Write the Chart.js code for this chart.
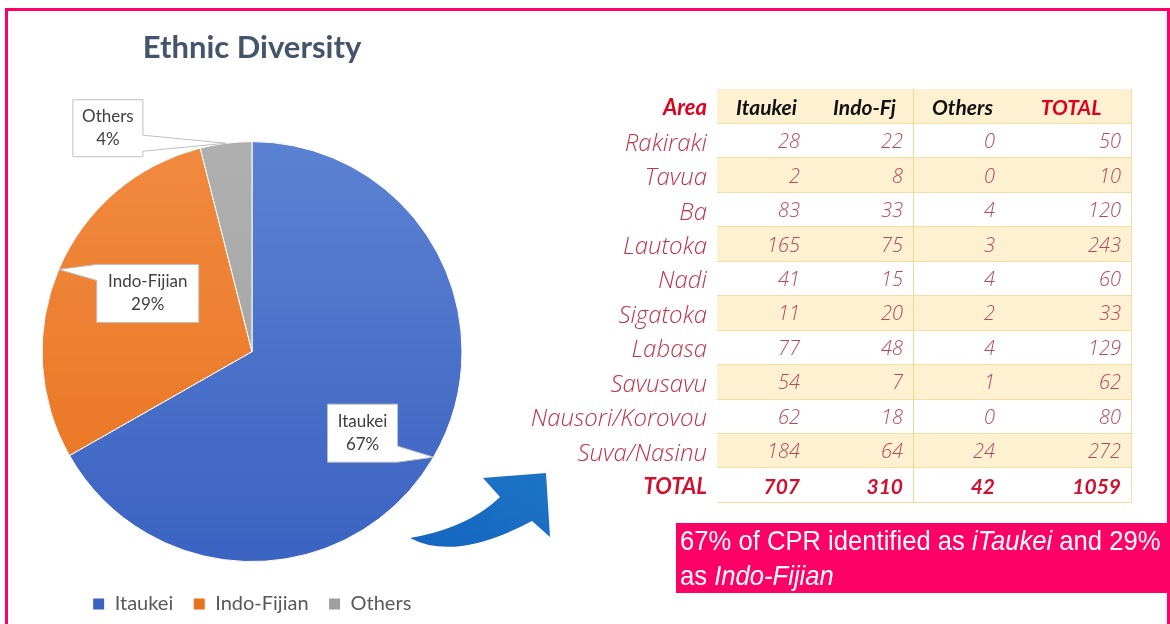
<!DOCTYPE html>
<html>
<head>
<meta charset="utf-8">
<script src="https://cdn.jsdelivr.net/npm/chart.js@4.4.1/dist/chart.umd.min.js"></script>
<style>
  body { margin: 0; width: 1170px; height: 624px; position: relative; overflow: hidden; background: #fff; }
  #frame { position: absolute; left: 5px; top: 8px; width: 1165px; height: 700px; border: 3px solid #ff0066; box-sizing: border-box; }
  #pieBox { position: absolute; left: 42px; top: 0; width: 420px; height: 624px; }
  #arrow { position: absolute; left: 0; top: 0; pointer-events: none; }
  #tbl {
    position: absolute; left: 520px; top: 89px;
    display: grid;
    grid-template-columns: 197px 93px 103px 92px 127px;
    grid-template-rows: 35px repeat(11, 34.45px);
    font-family: "Open Sans", sans-serif; font-style: italic; font-weight: 300; font-size: 20px;
  }
  #tbl div { box-sizing: border-box; display: flex; align-items: center; justify-content: flex-end; padding-right: 10px; color: #b5485a; }
  #tbl div.area { color: #c0334d; font-size: 24px; }
  #tbl div.cell { border-bottom: 1px solid #f3df9f; }
  #tbl div.cell.last { border-right: 1px solid #f3df9f; }
  #tbl div.split { border-left: 1px solid #f0d98a; }
  #tbl div.band { background: #fdf1d2; }
  #tbl div.head { font-family: Lato, sans-serif; font-size: 21px; font-weight: 700; color: #111; justify-content: center; padding-right: 0; padding-left: 6px; }
  #tbl div.red { color: #e0001b; }
  #tbl div.tot { font-family: Lato, sans-serif; font-size: 21px; font-weight: 700; color: #d0102e; }
  #tbl div.area.head, #tbl div.area.tot { font-size: 22px; }
  #note {
    position: absolute; left: 676px; top: 523px; width: 491px; height: 70px;
    background: #ff0066; color: #fff; box-sizing: border-box; padding-left: 4px; overflow: hidden;
    font-family: "Liberation Sans", Arial, sans-serif; font-size: 28px; line-height: 35px;
  }
  #note span { display: block; white-space: nowrap; transform: scaleX(0.915); transform-origin: left top; }
</style>
</head>
<body>
<div id="frame"></div>
<div id="pieBox"><canvas id="pie"></canvas></div>
<svg id="arrow" width="1170" height="624">
  <defs>
    <linearGradient id="ag" x1="0" y1="1" x2="1" y2="0">
      <stop offset="0" stop-color="#1565c0"/>
      <stop offset="1" stop-color="#1d74c6"/>
    </linearGradient>
  </defs>
  <path d="M410,538 Q455,562 532,521 L550,537 L546,473 L483,478 L500,497 Q468,528 410,538 Z" fill="url(#ag)"/>
</svg>
<div id="tbl"></div>
<div id="note"><span>67% of CPR identified as <i>iTaukei</i> and 29%</span><span>as <i>Indo-Fijian</i></span></div>

<script>
/* ======================
   DATA
====================== */
const groups = ["Itaukei", "Indo-Fijian", "Others"];
const groupTotals = [707, 310, 42];

const areas = ["Rakiraki", "Tavua", "Ba", "Lautoka", "Nadi", "Sigatoka", "Labasa", "Savusavu", "Nausori/Korovou", "Suva/Nasinu"];
const itaukei = [28, 2, 83, 165, 41, 11, 77, 54, 62, 184];
const indoFj = [22, 8, 33, 75, 15, 20, 48, 7, 18, 64];
const others = [0, 0, 4, 3, 4, 2, 4, 1, 0, 24];
const areaTotals = [50, 10, 120, 243, 60, 33, 129, 62, 80, 272];
const columnHeads = ["Area", "Itaukei", "Indo-Fj", "Others", "TOTAL"];
const grandTotal = 1059;

/* ======================
   TABLE
====================== */
const tbl = document.getElementById("tbl");

function addCell(text, cls) {
  const d = document.createElement("div");
  d.textContent = text;
  d.className = cls;
  tbl.appendChild(d);
  return d;
}

columnHeads.forEach((h, c) => {
  let cls = "cell band head";
  if (c === 4) cls += " red last";
  if (c === 3) cls += " split";
  if (c === 0) cls = "area head red";
  const d = addCell(h, cls);
  // the Area header sits right aligned like the names below it
  if (c === 0) {
    d.style.justifyContent = "flex-end";
    d.style.paddingRight = "10px";
  }
});

areas.forEach((a, r) => {
  const band = r % 2 === 1 ? " band" : "";
  addCell(a, "area");
  addCell(itaukei[r], "cell" + band);
  addCell(indoFj[r], "cell" + band);
  addCell(others[r], "cell split" + band);
  addCell(areaTotals[r], "cell last" + band);
});

addCell("TOTAL", "area tot");
addCell(groupTotals[0], "cell tot");
addCell(groupTotals[1], "cell tot");
addCell(groupTotals[2], "cell split tot");
addCell(grandTotal, "cell last tot");

/* ======================
   PIE CALLOUTS
====================== */
// box centre measured from the slice's outer edge, and box size
const calloutOffsets = [[-71, -24], [89, 24], [-118, -15]];
const calloutSizes = [[70, 58], [102, 58], [70, 57]];

const calloutPlugin = {
  id: "callouts",
  afterDatasetsDraw(chart) {
    const ctx = chart.ctx;
    const meta = chart.getDatasetMeta(0);
    const values = chart.data.datasets[0].data;
    const sum = values.reduce((a, b) => a + b, 0);

    meta.data.forEach((arc, i) => {
      const mid = (arc.startAngle + arc.endAngle) / 2;
      const ax = arc.x + Math.cos(mid) * arc.outerRadius;
      const ay = arc.y + Math.sin(mid) * arc.outerRadius;
      const [dx, dy] = calloutOffsets[i];
      const [w, h] = calloutSizes[i];
      const cx = ax + dx, cy = ay + dy;
      const x0 = cx - w / 2, x1 = cx + w / 2, y0 = cy - h / 2, y1 = cy + h / 2;
      const right = ax > cx;
      const by = Math.min(Math.max(ay, y0 + 8), y1 - 8);

      ctx.save();
      ctx.beginPath();
      ctx.moveTo(x0, y0);
      ctx.lineTo(x1, y0);
      if (right) {
        ctx.lineTo(x1, by - 8);
        ctx.lineTo(ax, ay);
        ctx.lineTo(x1, by + 8);
      }
      ctx.lineTo(x1, y1);
      ctx.lineTo(x0, y1);
      if (!right) {
        ctx.lineTo(x0, by + 8);
        ctx.lineTo(ax, ay);
        ctx.lineTo(x0, by - 8);
      }
      ctx.closePath();
      ctx.fillStyle = "#ffffff";
      ctx.fill();
      ctx.strokeStyle = "#bfbfbf";
      ctx.lineWidth = 1;
      ctx.stroke();

      ctx.fillStyle = "#404040";
      ctx.font = "17px Lato";
      ctx.textAlign = "center";
      ctx.textBaseline = "middle";
      ctx.fillText(chart.data.labels[i], cx, cy - 11.5);
      ctx.fillText(Math.round(values[i] / sum * 100) + "%", cx, cy + 11.5);
      ctx.restore();
    });
  }
};

/* ======================
   PIE CHART
====================== */
function sliceColor(context) {
  const colors = [["#5c83d2", "#3a62c1"], ["#f18a40", "#e8731f"], ["#b0b0b0", "#9f9f9f"]];
  const pair = colors[context.dataIndex] || colors[0];
  const area = context.chart.chartArea;
  if (!area) return pair[0];
  const g = context.chart.ctx.createLinearGradient(0, area.top, 0, area.bottom);
  g.addColorStop(0, pair[0]);
  g.addColorStop(1, pair[1]);
  return g;
}

new Chart(document.getElementById("pie"), {
  type: "pie",
  data: {
    labels: groups,
    datasets: [{
      data: groupTotals,
      backgroundColor: sliceColor,
      borderColor: "#ffffff",
      borderWidth: 1,
      radius: 210
    }]
  },
  options: {
    responsive: true,
    maintainAspectRatio: false,
    animation: false,
    plugins: {
      title: {
        display: true,
        text: "Ethnic Diversity",
        color: "#44546a",
        font: { family: "Lato", size: 31, weight: "700" },
        padding: { top: 29, bottom: 63 }
      },
      legend: {
        position: "bottom",
        labels: {
          boxWidth: 12,
          boxHeight: 12,
          padding: 20,
          color: "#595959",
          font: { family: "Lato", size: 20 }
        }
      },
      tooltip: { enabled: false }
    }
  },
  plugins: [calloutPlugin]
});
</script>
</body>
</html>
